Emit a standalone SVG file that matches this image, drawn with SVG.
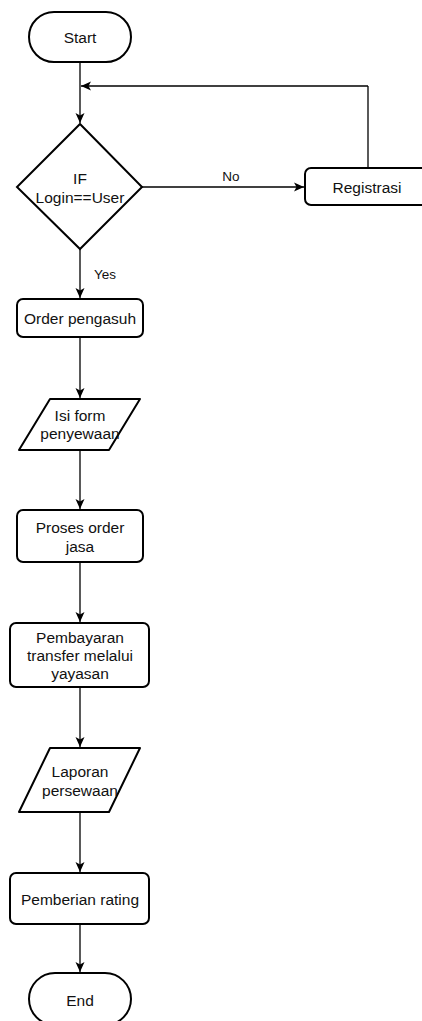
<svg xmlns="http://www.w3.org/2000/svg" width="422" height="1021" viewBox="0 0 422 1021">
  <defs>
    <marker id="arrow" viewBox="0 0 12 12" refX="11" refY="6" markerWidth="12" markerHeight="12" markerUnits="userSpaceOnUse" orient="auto">
      <path d="M1,1.5 L11,6 L1,10.5 L3.5,6 Z" fill="#000"/>
    </marker>
    <style>
      .shape { fill: #fff; stroke: #000; stroke-width: 2; }
      .edge { fill: none; stroke: #000; stroke-width: 1.3; marker-end: url(#arrow); }
      .line { fill: none; stroke: #000; stroke-width: 1.3; }
      text { font-family: "Liberation Sans", Arial, sans-serif; font-size: 15.5px; fill: #111; text-anchor: middle; dominant-baseline: central; }
      .lbl { font-size: 13.5px; }
    </style>
  </defs>
  <rect width="422" height="1021" fill="#fff"/>

  <!-- connectors -->
  <g id="connectors">
    <path class="edge" d="M80,62 V123"/>
    <path class="line" d="M368,168 V86"/>
    <path class="edge" d="M368,86 H81"/>
    <path class="edge" d="M142,187 H304"/>
    <text class="lbl" x="231" y="176">No</text>
    <path class="edge" d="M80,249 V298"/>
    <text class="lbl" x="105" y="274">Yes</text>
    <path class="edge" d="M80,337 V398"/>
    <path class="edge" d="M80,450 V509"/>
    <path class="edge" d="M80,562 V622"/>
    <path class="edge" d="M80,687 V747"/>
    <path class="edge" d="M80,812 V872"/>
    <path class="edge" d="M80,924 V972"/>
  </g>

  <g id="start">
    <rect class="shape" x="29" y="12" width="102" height="50" rx="25" ry="25"/>
    <text x="80" y="37">Start</text>
  </g>

  <g id="decision">
    <path class="shape" d="M80,124 L142,187 L80,249 L17,187 Z"/>
    <text x="80" y="178">IF</text>
    <text x="80" y="197">Login==User</text>
  </g>

  <g id="registrasi">
    <rect class="shape" x="305" y="168" width="126" height="37" rx="6"/>
    <text x="367" y="187">Registrasi</text>
  </g>

  <g id="order">
    <rect class="shape" x="17" y="299" width="126" height="38" rx="6"/>
    <text x="80" y="318">Order pengasuh</text>
  </g>

  <g id="form">
    <path class="shape" d="M50,399 H140 L109,450 H19 Z" stroke-linejoin="round"/>
    <text x="80" y="415">Isi form</text>
    <text x="80" y="433">penyewaan</text>
  </g>

  <g id="proses">
    <rect class="shape" x="17" y="510" width="126" height="52" rx="6"/>
    <text x="80" y="527">Proses order</text>
    <text x="80" y="546">jasa</text>
  </g>

  <g id="pembayaran">
    <rect class="shape" x="10" y="623" width="139" height="64" rx="6"/>
    <text x="80" y="637">Pembayaran</text>
    <text x="80" y="655">transfer melalui</text>
    <text x="80" y="673">yayasan</text>
  </g>

  <g id="laporan">
    <path class="shape" d="M50,748 H140 L109,812 H19 Z" stroke-linejoin="round"/>
    <text x="80" y="771">Laporan</text>
    <text x="80" y="790">persewaan</text>
  </g>

  <g id="rating">
    <rect class="shape" x="10" y="873" width="139" height="51" rx="6"/>
    <text x="80" y="899">Pemberian rating</text>
  </g>

  <g id="end">
    <rect class="shape" x="29" y="973" width="102" height="52" rx="26" ry="26"/>
    <text x="80" y="1000">End</text>
  </g>
</svg>
